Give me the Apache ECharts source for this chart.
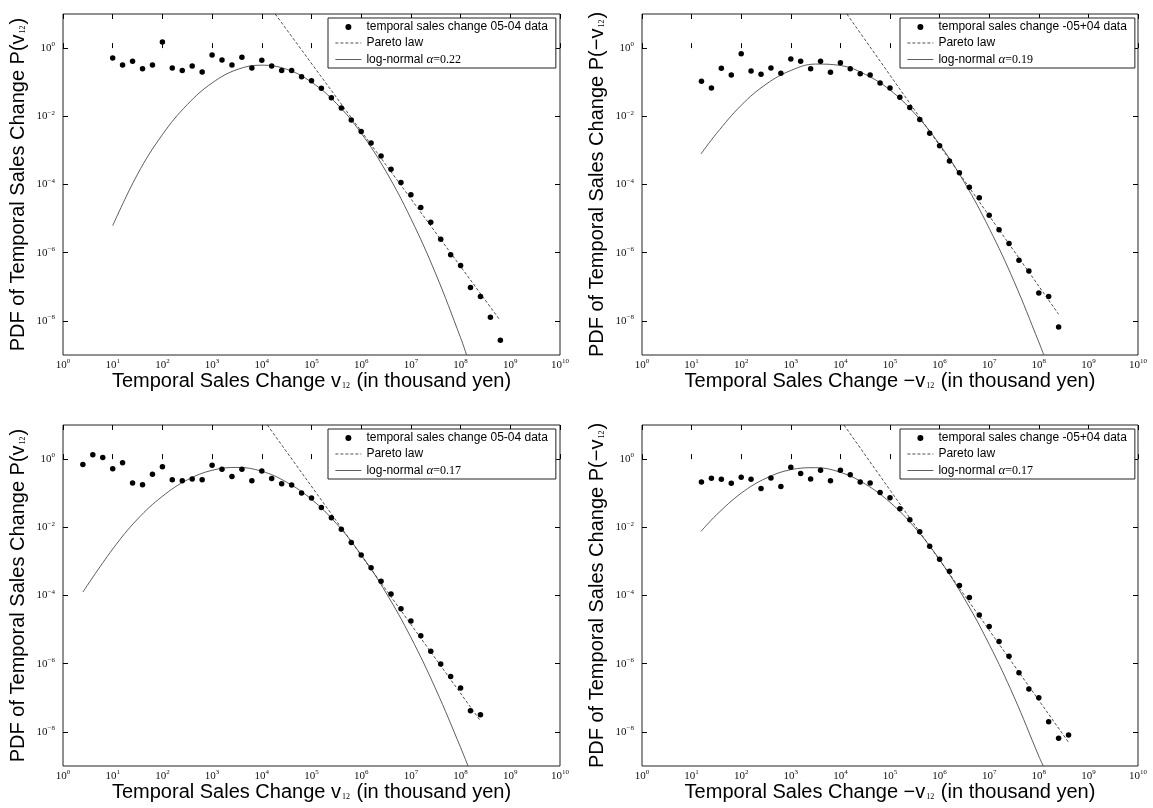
<!DOCTYPE html>
<html>
<head>
<meta charset="utf-8">
<script src="https://cdn.jsdelivr.net/npm/echarts@6/dist/echarts.min.js"></script>
<style>
html,body{margin:0;padding:0;background:#fff;}
#c{width:1153px;height:808px;}
</style>
</head>
<body>
<div id="c"></div>
<script>
// ---------------- DATA ----------------
// Panel 1 (top-left): temporal sales change 05-04, alpha = 0.22
const p1X = [1e1,1.58e1,2.51e1,3.98e1,6.31e1, 1e2,1.58e2,2.51e2,3.98e2,6.31e2,
             1e3,1.58e3,2.51e3,3.98e3,6.31e3, 1e4,1.58e4,2.51e4,3.98e4,6.31e4,
             1e5,1.58e5,2.51e5,3.98e5,6.31e5, 1e6,1.58e6,2.51e6,3.98e6,6.31e6,
             1e7,1.58e7,2.51e7,3.98e7,6.31e7, 1e8,1.58e8,2.51e8,3.98e8,6.31e8];
const p1Y = [0.51,0.32,0.41,0.25,0.32, 1.51,0.26,0.22,0.30,0.20,
             0.63,0.45,0.32,0.54,0.26, 0.44,0.30,0.22,0.22,0.145,
             0.11,0.066,0.035,0.0174,0.0078, 0.0036,0.00166,6.9e-4,2.8e-4,1.15e-4,
             5.0e-5,2.1e-5,7.8e-6,2.5e-6,8.7e-7, 4.2e-7,9.5e-8,5.2e-8,1.29e-8,2.7e-9];
const p1ParetoX = [1.86e4, 6.2e8];
const p1ParetoY = [10, 1.05e-8];
const p1LogNormX = [10,31.6,100,316,1000,3160,1e4,3.16e4,1e5,3.16e5,1e6,3.16e6,1e7,3.16e7,1e8,1.32e8];
const p1LogNormY = [6.2e-6,2.0e-4,2.9e-3,0.022,0.095,0.234,0.316,0.24,0.10,0.024,0.0032,2.4e-4,1.0e-5,2.4e-7,3.2e-9,1.0e-9];

// Panel 2 (top-right): temporal sales change -05+04, alpha = 0.19
const p2X = [1.58e1,2.51e1,3.98e1,6.31e1, 1e2,1.58e2,2.51e2,3.98e2,6.31e2,
             1e3,1.58e3,2.51e3,3.98e3,6.31e3, 1e4,1.58e4,2.51e4,3.98e4,6.31e4,
             1e5,1.58e5,2.51e5,3.98e5,6.31e5, 1e6,1.58e6,2.51e6,3.98e6,6.31e6,
             1e7,1.58e7,2.51e7,3.98e7,6.31e7, 1e8,1.58e8,2.51e8];
const p2Y = [0.107,0.068,0.257,0.162, 0.68,0.214,0.17,0.263,0.182,
             0.48,0.41,0.25,0.41,0.195, 0.37,0.25,0.178,0.162,0.095,
             0.068,0.036,0.018,0.0081,0.0032, 0.00138,4.9e-4,2.2e-4,8.3e-5,4.1e-5,
             1.26e-5,4.7e-6,1.86e-6,6.0e-7,2.9e-7, 6.6e-8,5.2e-8,6.6e-9];
const p2ParetoX = [1.35e4, 2.5e8];
const p2ParetoY = [10, 1.58e-8];
const p2LogNormX = [15.5,31.6,100,316,1000,3160,1e4,3.16e4,1e5,3.16e5,1e6,3.16e6,1e7,3.16e7,1e8,1.26e8];
const p2LogNormY = [7.9e-4,3.1e-3,0.021,0.087,0.22,0.34,0.31,0.17,0.059,0.012,1.5e-3,1.15e-4,5.2e-6,1.45e-7,2.4e-9,1.0e-9];

// Panel 3 (bottom-left): temporal sales change 05-04, alpha = 0.17
const p3X = [2.51,3.98,6.31, 1e1,1.58e1,2.51e1,3.98e1,6.31e1, 1e2,1.58e2,2.51e2,3.98e2,6.31e2,
             1e3,1.58e3,2.51e3,3.98e3,6.31e3, 1e4,1.58e4,2.51e4,3.98e4,6.31e4,
             1e5,1.58e5,2.51e5,3.98e5,6.31e5, 1e6,1.58e6,2.51e6,3.98e6,6.31e6,
             1e7,1.58e7,2.51e7,3.98e7,6.31e7, 1e8,1.58e8,2.51e8];
const p3Y = [0.69,1.35,1.12, 0.52,0.78,0.20,0.178,0.36, 0.60,0.25,0.23,0.26,0.25,
             0.66,0.50,0.31,0.50,0.23, 0.45,0.27,0.19,0.174,0.102,
             0.072,0.038,0.019,0.0087,0.0036, 0.00155,6.5e-4,2.6e-4,1.1e-4,4.1e-5,
             1.8e-5,6.6e-6,2.3e-6,9.8e-7,4.2e-7, 1.95e-7,4.2e-8,3.2e-8];
const p3ParetoX = [1.29e4, 2.45e8];
const p3ParetoY = [10, 2.2e-8];
const p3LogNormX = [2.51,10,31.6,100,316,1000,3160,1e4,3.16e4,1e5,3.16e5,1e6,3.16e6,1e7,3.16e7,1e8,1.41e8];
const p3LogNormY = [1.26e-4,2.3e-3,0.0174,0.081,0.245,0.47,0.57,0.44,0.21,0.066,0.0129,1.55e-3,1.2e-4,5.9e-6,1.8e-7,3.5e-9,1.0e-9];

// Panel 4 (bottom-right): temporal sales change -05+04, alpha = 0.17
const p4X = [1.58e1,2.51e1,3.98e1,6.31e1, 1e2,1.58e2,2.51e2,3.98e2,6.31e2,
             1e3,1.58e3,2.51e3,3.98e3,6.31e3, 1e4,1.58e4,2.51e4,3.98e4,6.31e4,
             1e5,1.58e5,2.51e5,3.98e5,6.31e5, 1e6,1.58e6,2.51e6,3.98e6,6.31e6,
             1e7,1.58e7,2.51e7,3.98e7,6.31e7, 1e8,1.58e8,2.51e8,3.98e8];
const p4Y = [0.214,0.275,0.257,0.195, 0.295,0.257,0.138,0.28,0.158,
             0.575,0.38,0.263,0.47,0.23, 0.47,0.35,0.214,0.20,0.105,
             0.074,0.035,0.0166,0.0074,0.0028, 0.00115,5.1e-4,1.95e-4,8.7e-5,2.7e-5,
             1.23e-5,4.5e-6,1.66e-6,5.4e-7,1.82e-7, 1.0e-7,2.0e-8,6.5e-9,8.1e-9];
const p4ParetoX = [1.18e4, 4.0e8];
const p4ParetoY = [10, 4.9e-9];
const p4LogNormX = [15.5,31.6,100,316,1000,3160,1e4,3.16e4,1e5,3.16e5,1e6,3.16e6,1e7,3.16e7,1e8,1.23e8];
const p4LogNormY = [7.6e-3,0.023,0.10,0.275,0.49,0.56,0.41,0.186,0.054,9.8e-3,1.12e-3,8.1e-5,3.7e-6,1.07e-7,1.95e-9,1.0e-9];

// Tick positions (exponents of 10)
const xTickExponents = [0,1,2,3,4,5,6,7,8,9,10];
const yTickExponents = [-8,-6,-4,-2,0];

// Names / texts
const dataNamePos = 'temporal sales change 05-04 data';
const dataNameNeg = 'temporal sales change -05+04 data';
const paretoName = 'Pareto law';
const lnNames = ['log-normal \u03b1=0.22', 'log-normal \u03b1=0.19', 'log-normal \u03b1=0.17', 'log-normal \u03b1=0.17'];

// ---------------- CHART ----------------
const SANS = '"Liberation Sans", Arial, Helvetica, sans-serif';
const SERIF = '"Liberation Serif", "Times New Roman", serif';

const zip = (xs, ys) => xs.map((x, i) => [x, ys[i]]);

const panels = [
  {x: p1X, y: p1Y, px: p1ParetoX, py: p1ParetoY, lx: p1LogNormX, ly: p1LogNormY, dn: dataNamePos, ln: lnNames[0], neg: false},
  {x: p2X, y: p2Y, px: p2ParetoX, py: p2ParetoY, lx: p2LogNormX, ly: p2LogNormY, dn: dataNameNeg, ln: lnNames[1], neg: true},
  {x: p3X, y: p3Y, px: p3ParetoX, py: p3ParetoY, lx: p3LogNormX, ly: p3LogNormY, dn: dataNamePos, ln: lnNames[2], neg: false},
  {x: p4X, y: p4Y, px: p4ParetoX, py: p4ParetoY, lx: p4LogNormX, ly: p4LogNormY, dn: dataNameNeg, ln: lnNames[3], neg: true}
];

const gridBoxes = [
  {left: 63, top: 14, width: 497, height: 341},
  {left: 642, top: 14, width: 496, height: 341},
  {left: 63, top: 425, width: 497, height: 341},
  {left: 642, top: 425, width: 496, height: 341}
];
const legendPos = [
  {left: 328, top: 18}, {left: 900, top: 18}, {left: 328, top: 429}, {left: 900, top: 429}
];

function expLabel(e) {
  const s = e < 0 ? '\u2212' + (-e) : String(e);
  return '{b|10}{s|' + s + '}';
}
const tickRich = {
  b: {fontFamily: SERIF, fontSize: 11, lineHeight: 14, color: '#111'},
  s: {fontFamily: SERIF, fontSize: 7, lineHeight: 8, verticalAlign: 'top', color: '#111'}
};
const nameRich = {
  t: {fontFamily: SANS, fontSize: 20, lineHeight: 22, color: '#000'},
  sub: {fontFamily: SERIF, fontSize: 8, lineHeight: 9, verticalAlign: 'bottom', color: '#000', padding: [0, 1, 2, 1]}
};
const tickLine = {color: '#000', width: 1};

const grid = [], xAxis = [], yAxis = [], series = [], legend = [];

panels.forEach((p, g) => {
  grid.push(Object.assign({show: true, borderColor: '#222', borderWidth: 1, backgroundColor: 'transparent', containLabel: false}, gridBoxes[g]));
  const minus = p.neg ? '\u2212' : '';
  // data axes (log scales)
  xAxis.push({type: 'log', logBase: 10, gridIndex: g, min: 1, max: 1e10, show: false});
  // visible tick axes in exponent space
  xAxis.push({
    type: 'value', gridIndex: g, min: 0, max: 10, interval: 1, position: 'bottom',
    axisLine: {show: false}, splitLine: {show: false},
    axisTick: {show: true, inside: true, length: 5, lineStyle: tickLine},
    axisLabel: {show: true, margin: 3, formatter: v => expLabel(Math.round(v)), rich: tickRich},
    name: '{t|Temporal Sales Change ' + minus + 'v}{sub|12}{t| (in thousand yen)}',
    nameLocation: 'middle', nameGap: 12,
    nameTextStyle: {rich: nameRich, fontFamily: SANS, fontSize: 20, color: '#000'}
  });
  xAxis.push({
    type: 'value', gridIndex: g, min: 0, max: 10, interval: 1, position: 'top',
    axisLine: {show: false}, splitLine: {show: false},
    axisTick: {show: true, inside: true, length: 5, lineStyle: tickLine},
    axisLabel: {show: false}
  });
  yAxis.push({type: 'log', logBase: 10, gridIndex: g, min: 1e-9, max: 1e1, show: false});
  yAxis.push({
    type: 'value', gridIndex: g, min: -9, max: 1, position: 'left',
    axisLine: {show: false}, splitLine: {show: false},
    axisTick: {show: true, inside: true, length: 5, lineStyle: tickLine, customValues: yTickExponents},
    axisLabel: {show: true, margin: 8, customValues: yTickExponents, formatter: v => expLabel(Math.round(v)), rich: tickRich},
    name: '{t|PDF of Temporal Sales Change P(' + minus + 'v}{sub|12}{t|)}',
    nameLocation: 'middle', nameGap: 34,
    nameTextStyle: {rich: nameRich, fontFamily: SANS, fontSize: 20, color: '#000'}
  });
  yAxis.push({
    type: 'value', gridIndex: g, min: -9, max: 1, position: 'right',
    axisLine: {show: false}, splitLine: {show: false},
    axisTick: {show: true, inside: true, length: 5, lineStyle: tickLine, customValues: yTickExponents},
    axisLabel: {show: false}
  });

  const xi = g * 3, yi = g * 3;
  series.push({
    type: 'line', name: paretoName, xAxisIndex: xi, yAxisIndex: yi,
    data: zip(p.px, p.py), symbol: 'none', showSymbol: false, clip: true,
    lineStyle: {color: '#222', width: 0.8, type: [3, 2]}, itemStyle: {color: '#222'}, z: 2
  });
  series.push({
    type: 'line', name: p.ln, xAxisIndex: xi, yAxisIndex: yi,
    data: zip(p.lx, p.ly), symbol: 'none', showSymbol: false, smooth: 0.4, clip: true,
    lineStyle: {color: '#333', width: 0.8, type: 'solid'}, itemStyle: {color: '#333'}, z: 2
  });
  series.push({
    type: 'scatter', name: p.dn, xAxisIndex: xi, yAxisIndex: yi,
    data: zip(p.x, p.y), symbol: 'circle', symbolSize: 5.5,
    itemStyle: {color: '#000', opacity: 1}, z: 3
  });

  legend.push({
    orient: 'vertical', left: legendPos[g].left, top: legendPos[g].top,
    data: [
      {name: p.dn, itemStyle: {color: '#000', opacity: 1}},
      {name: paretoName, itemStyle: {opacity: 0}, lineStyle: {color: '#222', width: 0.8, type: [3, 2]}},
      {name: p.ln, itemStyle: {opacity: 0}, lineStyle: {color: '#333', width: 0.8, type: 'solid'}}
    ],
    selectedMode: false,
    itemWidth: 26, itemHeight: 6, itemGap: 4,
    padding: [3, 8, 2, 7],
    backgroundColor: '#fff', borderColor: '#222', borderWidth: 1, borderRadius: 0,
    formatter: function (name) {
      const i = name.indexOf('\u03b1');
      if (i >= 0) {
        return '{s|' + name.slice(0, i) + '}{g|\u03b1}{n|' + name.slice(i + 1) + '}';
      }
      return '{s|' + name + '}';
    },
    textStyle: {
      color: '#000', fontFamily: SANS, fontSize: 12, lineHeight: 12,
      rich: {
        s: {fontFamily: SANS, fontSize: 12, lineHeight: 12, color: '#000'},
        g: {fontFamily: SERIF, fontStyle: 'italic', fontSize: 13, lineHeight: 12, color: '#000'},
        n: {fontFamily: SERIF, fontSize: 12, lineHeight: 12, color: '#000'}
      }
    }
  });
});

const chart = echarts.init(document.getElementById('c'), null, {renderer: 'canvas'});
chart.setOption({
  animation: false,
  backgroundColor: '#fff',
  grid, xAxis, yAxis, series, legend
});
</script>
</body>
</html>
